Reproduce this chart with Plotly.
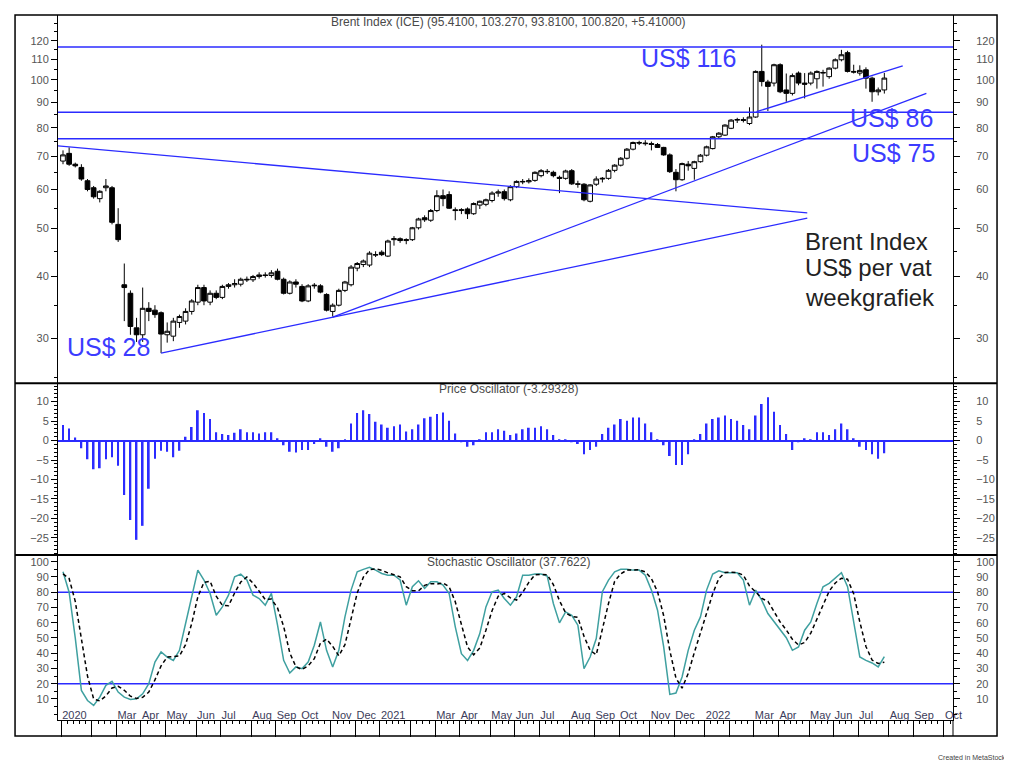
import pandas as pd
import plotly.graph_objects as go

# weekly Brent index candles (Jan 2020 - Jul 2022)
open_px = [68.5, 71.0, 67.5, 66.5, 62.5, 60.5, 57.5, 60.5, 60.5, 51.0,
           38.5, 37.0, 31.5, 30.5, 34.5, 34.2, 33.8, 30.5, 30.3, 32.3,
           32.5, 34.0, 35.5, 38.0, 35.5, 37.0, 36.3, 38.2, 38.5, 38.6,
           39.5, 39.4, 40.0, 40.3, 40.2, 41.0, 39.5, 37.0, 39.0, 38.2,
           35.7, 38.3, 38.3, 36.8, 34.0, 35.0, 37.5, 38.5, 41.6, 42.3,
           42.2, 44.2, 44.8, 44.0, 47.5, 47.7, 47.3, 47.5, 50.2, 52.6,
           52.0, 54.4, 58.3, 58.6, 54.6, 54.4, 54.8, 53.6, 55.8, 56.0,
           57.0, 59.0, 59.4, 57.2, 60.8, 62.3, 62.2, 62.6, 64.0, 65.3,
           65.0, 63.5, 63.2, 65.5, 61.6, 61.5, 56.8, 61.5, 63.0, 63.2,
           65.6, 67.2, 69.4, 72.4, 74.7, 74.5, 74.3, 74.0, 73.0, 70.5,
           65.0, 62.8, 67.5, 66.2, 68.3, 70.4, 72.6, 76.7, 77.3, 79.8,
           82.9, 83.1, 81.6, 84.1, 104.0, 99.0, 98.5, 107.3, 95.4, 93.9,
           103.2, 98.5, 98.5, 100.5, 103.2, 101.5, 105.6, 109.8, 113.5, 104.0,
           103.2, 104.8, 100.8, 94.6, 95.41]
high_px = [72.0, 73.0, 68.0, 67.5, 63.0, 61.0, 59.8, 63.0, 61.0, 55.0,
           42.5, 37.5, 33.0, 38.0, 35.5, 35.0, 34.0, 32.3, 33.0, 33.5,
           34.5, 36.0, 38.5, 38.5, 37.5, 37.5, 38.5, 38.8, 39.5, 39.8,
           40.0, 40.3, 40.8, 40.8, 41.2, 41.5, 39.8, 39.3, 39.5, 38.6,
           38.6, 38.8, 38.6, 37.0, 35.3, 37.8, 39.2, 42.2, 42.8, 43.3,
           45.0, 45.0, 45.2, 47.5, 48.3, 48.0, 47.8, 50.4, 52.6, 53.2,
           54.8, 59.8, 60.0, 59.5, 55.2, 55.0, 55.2, 56.5, 57.0, 57.5,
           59.5, 60.0, 60.0, 61.2, 62.6, 63.0, 63.2, 65.3, 66.0, 66.0,
           65.5, 64.0, 65.8, 66.0, 62.5, 61.8, 61.5, 63.8, 63.6, 66.0,
           67.5, 69.8, 72.8, 75.0, 75.3, 75.5, 75.0, 74.5, 73.2, 71.0,
           66.0, 68.0, 68.5, 68.6, 70.8, 73.6, 77.0, 78.4, 81.3, 83.3,
           83.8, 84.0, 88.0, 104.5, 117.8, 100.0, 107.8, 108.0, 103.0, 103.0,
           104.0, 103.2, 104.0, 104.5, 104.8, 106.0, 110.5, 115.0, 114.5, 107.3,
           107.0, 106.0, 101.5, 96.5, 103.27]
low_px = [67.5, 67.0, 66.5, 62.5, 59.5, 57.5, 56.5, 59.5, 51.0, 47.0,
          32.5, 30.5, 29.5, 29.5, 32.5, 33.0, 28.0, 29.4, 29.6, 31.5,
          32.0, 33.5, 35.0, 35.0, 35.0, 36.0, 36.0, 37.8, 38.0, 38.2,
          39.0, 39.0, 39.6, 39.8, 39.8, 39.3, 36.8, 36.8, 38.0, 35.5,
          35.5, 37.8, 37.0, 34.0, 33.2, 34.8, 37.2, 38.2, 41.0, 41.8,
          41.8, 43.8, 44.0, 43.8, 46.2, 46.8, 46.5, 47.2, 49.8, 51.6,
          51.6, 54.0, 55.5, 54.8, 52.0, 53.5, 52.3, 53.3, 54.8, 55.5,
          56.5, 58.0, 57.0, 56.8, 60.4, 61.5, 61.7, 62.2, 63.5, 64.5,
          63.5, 59.0, 62.8, 61.3, 60.5, 56.8, 56.5, 61.0, 62.0, 62.8,
          65.0, 66.8, 69.0, 72.0, 73.8, 73.6, 72.0, 72.8, 70.2, 64.8,
          59.5, 62.5, 65.5, 62.8, 68.0, 70.0, 72.3, 76.0, 77.0, 79.5,
          81.8, 82.0, 81.0, 83.8, 97.0, 86.5, 97.0, 94.0, 90.3, 93.0,
          97.5, 91.7, 97.5, 96.0, 96.9, 100.5, 105.0, 109.0, 103.5, 103.0,
          102.0, 96.0, 90.3, 93.0, 93.81]
close_px = [70.5, 67.5, 67.0, 63.0, 60.0, 58.0, 59.5, 61.0, 51.5, 47.5,
            38.0, 31.7, 30.5, 34.5, 34.0, 33.5, 30.6, 31.0, 32.5, 33.2,
            34.0, 35.7, 38.0, 35.7, 37.0, 36.3, 38.2, 38.5, 38.7, 39.5,
            39.4, 40.0, 40.3, 40.2, 40.7, 39.5, 37.0, 39.0, 38.6, 35.7,
            38.3, 38.4, 37.2, 34.2, 35.0, 37.5, 39.0, 41.8, 42.5, 43.0,
            44.6, 44.3, 44.3, 47.2, 47.7, 47.3, 47.5, 50.2, 52.3, 52.1,
            54.4, 58.3, 57.5, 55.0, 54.4, 54.6, 53.6, 56.2, 56.8, 57.2,
            59.0, 59.3, 57.5, 60.8, 62.3, 62.2, 62.5, 65.0, 65.5, 65.2,
            64.0, 63.2, 65.4, 61.6, 61.5, 57.2, 61.3, 63.0, 63.2, 65.6,
            67.2, 69.4, 72.4, 74.7, 74.5, 74.3, 74.0, 73.0, 70.5, 65.2,
            62.8, 67.7, 67.0, 68.3, 70.4, 73.2, 76.7, 78.0, 81.0, 82.9,
            83.1, 82.8, 84.1, 104.0, 99.2, 97.0, 107.3, 94.6, 93.9, 102.0,
            98.5, 98.0, 103.2, 104.0, 103.5, 105.6, 109.8, 112.4, 104.0, 103.7,
            104.5, 100.8, 94.6, 95.41, 100.82]

# price oscillator histogram
price_osc = [4.0, 3.1, 0.8, -2.0, -4.8, -7.4, -7.1, -4.8, -4.3, -6.5,
             -14.0, -20.4, -25.5, -21.9, -12.4, -4.7, -2.6, -2.9, -4.3, -2.6,
             1.0, 3.5, 7.8, 7.1, 5.5, 2.1, 1.7, 1.4, 2.0, 2.9,
             2.1, 2.1, 1.8, 2.1, 2.1, 0.6, -1.2, -2.9, -3.1, -2.4,
             -2.4, -0.9, 0.6, -1.6, -2.9, -2.0, 0.2, 4.4, 7.1, 7.8,
             6.8, 4.8, 4.1, 3.3, 3.7, 4.1, 2.3, 2.9, 4.1, 5.7,
             6.1, 6.8, 7.2, 5.1, 1.8, -0.3, -1.6, -1.2, 0.2, 2.1,
             2.1, 2.9, 2.5, 1.4, 1.8, 2.9, 3.3, 3.3, 3.7, 2.9,
             1.4, 0.2, 0.1, -0.3, -0.9, -3.5, -2.4, -1.6, 1.7, 3.3,
             4.1, 5.5, 5.1, 5.9, 5.9, 4.4, 2.1, 0.1, -1.2, -4.0,
             -6.3, -6.3, -3.5, 0.1, 1.7, 4.4, 5.5, 5.9, 6.4, 5.5,
             5.1, 4.0, 2.9, 6.4, 9.4, 11.1, 7.4, 4.0, 1.7, -2.4,
             -0.4, 0.6, 0.1, 2.1, 2.1, 1.4, 2.9, 4.4, 2.9, 0.6,
             -1.6, -2.4, -3.5, -4.7, -3.29]

# stochastic oscillator, %K (solid) and %D (dashed)
stoch_k = [93.4, 80.0, 50.0, 15.6, 9.0, 5.8, 11.2, 18.9, 21.5, 14.5,
           11.2, 9.7, 10.1, 13.4, 20.0, 34.2, 40.8, 37.5, 35.3, 41.9,
           59.5, 77.0, 94.5, 88.0, 79.2, 64.9, 70.4, 78.1, 90.1, 91.9,
           88.0, 78.1, 75.9, 71.5, 79.2, 58.4, 35.3, 27.0, 31.0, 29.9,
           34.2, 45.2, 60.5, 41.9, 31.0, 41.9, 63.8, 81.4, 93.4, 95.0,
           96.3, 94.5, 92.3, 91.2, 91.2, 88.0, 71.5, 83.6, 87.5, 82.5,
           86.8, 86.8, 84.7, 79.2, 57.3, 39.7, 35.3, 41.9, 52.9, 70.4,
           80.3, 81.4, 75.9, 71.5, 77.0, 91.2, 91.2, 91.9, 91.9, 90.6,
           72.6, 59.9, 67.1, 64.9, 58.4, 29.9, 37.5, 49.6, 80.3, 88.0,
           93.4, 95.0, 95.0, 94.5, 94.5, 91.2, 81.4, 68.2, 44.1, 13.0,
           13.9, 24.4, 41.9, 55.1, 63.8, 81.4, 91.9, 94.1, 92.8, 92.8,
           92.8, 88.0, 71.5, 81.4, 74.8, 66.0, 60.5, 55.1, 50.2, 41.9,
           44.1, 55.1, 60.5, 72.6, 83.6, 85.8, 89.0, 92.8, 83.6, 60.5,
           37.5, 35.3, 33.6, 31.0, 37.76]
stoch_d = [92.0, 89.0, 74.0, 49.0, 25.0, 10.0, 8.7, 12.0, 17.2, 18.3,
           15.7, 11.8, 10.3, 11.1, 14.5, 22.5, 31.7, 37.5, 37.9, 38.2,
           45.6, 59.5, 77.0, 86.5, 87.2, 77.4, 71.5, 71.1, 79.5, 86.7,
           90.0, 86.0, 80.7, 75.2, 75.5, 69.7, 57.6, 40.2, 31.1, 29.3,
           31.7, 36.4, 46.6, 49.2, 44.5, 38.3, 45.6, 62.4, 79.5, 89.9,
           94.9, 95.3, 94.4, 92.7, 91.6, 90.1, 83.6, 81.0, 80.9, 84.5,
           85.6, 85.4, 86.1, 83.6, 73.7, 58.7, 44.1, 39.0, 43.4, 55.1,
           67.9, 77.4, 79.2, 76.3, 74.8, 79.9, 86.5, 91.4, 91.7, 91.5,
           85.0, 74.4, 66.5, 64.0, 63.5, 51.1, 41.9, 39.0, 55.8, 72.6,
           87.2, 92.1, 94.5, 94.8, 94.7, 93.4, 89.0, 80.3, 64.6, 41.8,
           23.7, 17.1, 26.7, 40.5, 53.6, 66.8, 79.0, 89.1, 92.9, 93.2,
           92.8, 91.2, 84.1, 80.3, 75.9, 74.1, 67.1, 60.5, 55.3, 49.1,
           45.4, 47.0, 53.2, 62.7, 72.2, 80.7, 86.1, 89.2, 88.5, 79.0,
           60.5, 44.4, 35.5, 33.3, 34.1]

# support / resistance levels and trend lines drawn by hand
levels = [116.5, 86.0, 76.0]
trend_x = [["2019-12-28", "2022-05-02"], ["2020-04-24", "2022-05-02"],
           ["2020-11-06", "2022-09-15"], ["2022-03-05", "2022-08-19"]]
trend_y = [[73.5, 53.8], [28.0, 52.5], [33.1, 93.9], [86.2, 106.7]]
stoch_bands = [80, 20]

price_ticks = [30, 40, 50, 60, 70, 80, 90, 100, 110, 120]
price_minor = [25, 35, 45, 55, 65, 75, 85, 95, 105, 115, 125, 130]
osc_ticks = [-25, -20, -15, -10, -5, 0, 5, 10]
stoch_ticks = [10, 20, 30, 40, 50, 60, 70, 80, 90, 100]
month_names = ["2020", "", "Mar", "Apr", "May", "Jun", "Jul", "Aug", "Sep", "Oct", "Nov", "Dec",
               "2021", "", "Mar", "Apr", "May", "Jun", "Jul", "Aug", "Sep", "Oct", "Nov", "Dec",
               "2022", "", "Mar", "Apr", "May", "Jun", "Jul", "Aug", "Sep", "Oct"]

x_range = ["2019-12-28 07:00", "2022-10-15 10:00"]

BLUE = "#2b2bff"
FONT = "Liberation Sans, Arial, sans-serif"
TICKFONT = dict(family=FONT, size=11, color="#555555")
DAY_MS = 86400000

dates = pd.date_range("2020-01-03", periods=len(close_px), freq="W-FRI")
fridays = pd.date_range("2020-01-03", "2022-10-14", freq="W-FRI")
month_first = fridays.to_series().groupby(fridays.to_period("M")).first()
month_ticks = list(month_first - pd.Timedelta(days=2))

fig = go.Figure()

fig.add_trace(go.Candlestick(
    x=dates, open=open_px, high=high_px, low=low_px, close=close_px,
    increasing=dict(line=dict(color="black", width=1), fillcolor="white"),
    decreasing=dict(line=dict(color="black", width=1), fillcolor="black"),
    xaxis="x", yaxis="y", showlegend=False))

for lv in levels:
    fig.add_trace(go.Scatter(x=x_range, y=[lv, lv], mode="lines", yaxis="y",
                             line=dict(color=BLUE, width=1.5), hoverinfo="skip"))
for tx, ty in zip(trend_x, trend_y):
    fig.add_trace(go.Scatter(x=tx, y=ty, mode="lines", yaxis="y",
                             line=dict(color=BLUE, width=1.3), hoverinfo="skip"))

fig.add_trace(go.Bar(x=dates, y=price_osc, yaxis="y2", width=2.0 * DAY_MS,
                     marker=dict(color=BLUE, line=dict(width=0))))

for b in stoch_bands:
    fig.add_trace(go.Scatter(x=x_range, y=[b, b], mode="lines", yaxis="y3",
                             line=dict(color=BLUE, width=1.5), hoverinfo="skip"))
fig.add_trace(go.Scatter(x=dates, y=stoch_k, mode="lines", yaxis="y3",
                         line=dict(color="#3fa0a0", width=1.5)))
fig.add_trace(go.Scatter(x=dates, y=stoch_d, mode="lines", yaxis="y3",
                         line=dict(color="black", width=1.5, dash="4px,3px")))

# invisible points so the right hand axes get drawn
for ax, val in (("y4", close_px[0]), ("y5", price_osc[0]), ("y6", stoch_k[0])):
    fig.add_trace(go.Scatter(x=[dates[0]], y=[val], yaxis=ax, mode="markers",
                             marker=dict(opacity=0), hoverinfo="skip"))

main_dom = [0.4776, 1.0]
osc_dom = [0.2340, 0.4776]
sto_dom = [0.0, 0.2340]


def yax(domain, rng, tickvals, minor, side="left", overlay=None, **kw):
    d = dict(domain=domain, anchor="x", range=rng, tickmode="array", tickvals=tickvals,
             ticks="outside", ticklen=6, tickcolor="black", tickfont=TICKFONT,
             showline=True, linecolor="black", linewidth=1, showgrid=False,
             zeroline=False, side=side, minor=minor)
    if overlay:
        d["overlaying"] = overlay
        d["ticklabelstandoff"] = 14
    d.update(kw)
    return d


minor_price = dict(tickmode="array", tickvals=price_minor, ticks="outside", ticklen=3, tickcolor="black")
minor_osc = dict(dtick=1, ticks="outside", ticklen=3, tickcolor="black")
minor_sto = dict(dtick=5, ticks="outside", ticklen=3, tickcolor="black")
price_rng = [1.3861, 2.1312]
osc_rng = [-29.4, 14.7]
sto_rng = [-3.8, 104.4]

# the page puts the figure 8px in from the corner, so it is 8px smaller
fig.update_layout(
    width=1004, height=760,
    margin=dict(l=50, r=59, t=7, b=48),
    paper_bgcolor="white", plot_bgcolor="white",
    showlegend=False,
    boxgap=0.15, boxgroupgap=0.1,
    xaxis=dict(domain=[0, 1], anchor="y3", type="date", range=x_range,
               tickmode="array", tickvals=month_ticks, ticktext=month_names,
               ticks="outside", ticklen=16, tickcolor="black", tickwidth=1,
               ticklabelposition="outside right", tickangle=0, ticklabelstandoff=-15,
               tickfont=dict(family=FONT, size=11, color="#3c3c5a"),
               showline=True, linecolor="black", showgrid=False, zeroline=False,
               rangeslider=dict(visible=False),
               minor=dict(ticks="outside", ticklen=3, dtick=7 * DAY_MS,
                          tick0="2020-01-01", tickcolor="black")),
    yaxis=yax(main_dom, price_rng, price_ticks, minor_price, type="log"),
    yaxis4=yax(main_dom, price_rng, price_ticks, minor_price, side="right", overlay="y", type="log"),
    yaxis2=yax(osc_dom, osc_rng, osc_ticks, minor_osc,
               zeroline=True, zerolinecolor=BLUE, zerolinewidth=2),
    yaxis5=yax(osc_dom, osc_rng, osc_ticks, minor_osc, side="right", overlay="y2"),
    yaxis3=yax(sto_dom, sto_rng, stoch_ticks, minor_sto),
    yaxis6=yax(sto_dom, sto_rng, stoch_ticks, minor_sto, side="right", overlay="y3"),
)

frame_l, frame_r, frame_b = -0.048, 1.0492, -0.0227
fig.add_shape(type="rect", xref="paper", yref="paper", x0=frame_l, x1=frame_r,
              y0=frame_b, y1=1.0, line=dict(color="black", width=1.5))
for yy in (main_dom[0], osc_dom[0]):
    fig.add_shape(type="line", xref="paper", yref="paper", x0=frame_l, x1=frame_r,
                  y0=yy, y1=yy, line=dict(color="black", width=2))
fig.add_shape(type="line", xref="paper", yref="paper", x0=1, x1=1, y0=frame_b, y1=0,
              line=dict(color="black", width=1))

title_font = dict(family=FONT, size=12, color="#4a4a4a")
fig.add_annotation(text="Brent Index (ICE) (95.4100, 103.270, 93.8100, 100.820, +5.41000)",
                   xref="paper", x=0.503, yref="y domain", y=0.981, yanchor="middle",
                   showarrow=False, font=title_font)
fig.add_annotation(text="Price Oscillator (-3.29328)", xref="paper", x=0.503,
                   yref="y2 domain", y=0.968, yanchor="middle", showarrow=False, font=title_font)
fig.add_annotation(text="Stochastic Oscillator (37.7622)", xref="paper", x=0.503,
                   yref="y3 domain", y=0.958, yanchor="middle", showarrow=False, font=title_font)

big_blue = dict(family=FONT, size=25, color="#3c3cff")
fig.add_annotation(text="US$ 116", xref="paper", x=0.760, xanchor="right",
                   yref="y domain", y=0.883, yanchor="middle", showarrow=False, font=big_blue)
fig.add_annotation(text="US$ 86", xref="paper", x=0.883, xanchor="left",
                   yref="y domain", y=0.720, yanchor="middle", showarrow=False, font=big_blue)
fig.add_annotation(text="US$ 75", xref="paper", x=0.885, xanchor="left",
                   yref="y domain", y=0.625, yanchor="middle", showarrow=False, font=big_blue)
fig.add_annotation(text="US$ 28", xref="paper", x=0.008, xanchor="left",
                   yref="y domain", y=0.0986, yanchor="middle", showarrow=False, font=big_blue)
note_font = dict(family=FONT, size=24, color="#222222")
for txt, yy in (("Brent Index", 0.3837), ("US$ per vat", 0.3131), ("weekgrafiek", 0.2343)):
    fig.add_annotation(text=txt, xref="paper", x=0.832, xanchor="left",
                       yref="y domain", y=yy, yanchor="middle", showarrow=False, font=note_font)
fig.add_annotation(text="Created in MetaStock", xref="paper", x=1.061, xanchor="right",
                   yref="paper", y=-0.0525, yanchor="middle", showarrow=False,
                   font=dict(family=FONT, size=7, color="#444444"))

fig.write_html("out.html", config=dict(displayModeBar=False))
